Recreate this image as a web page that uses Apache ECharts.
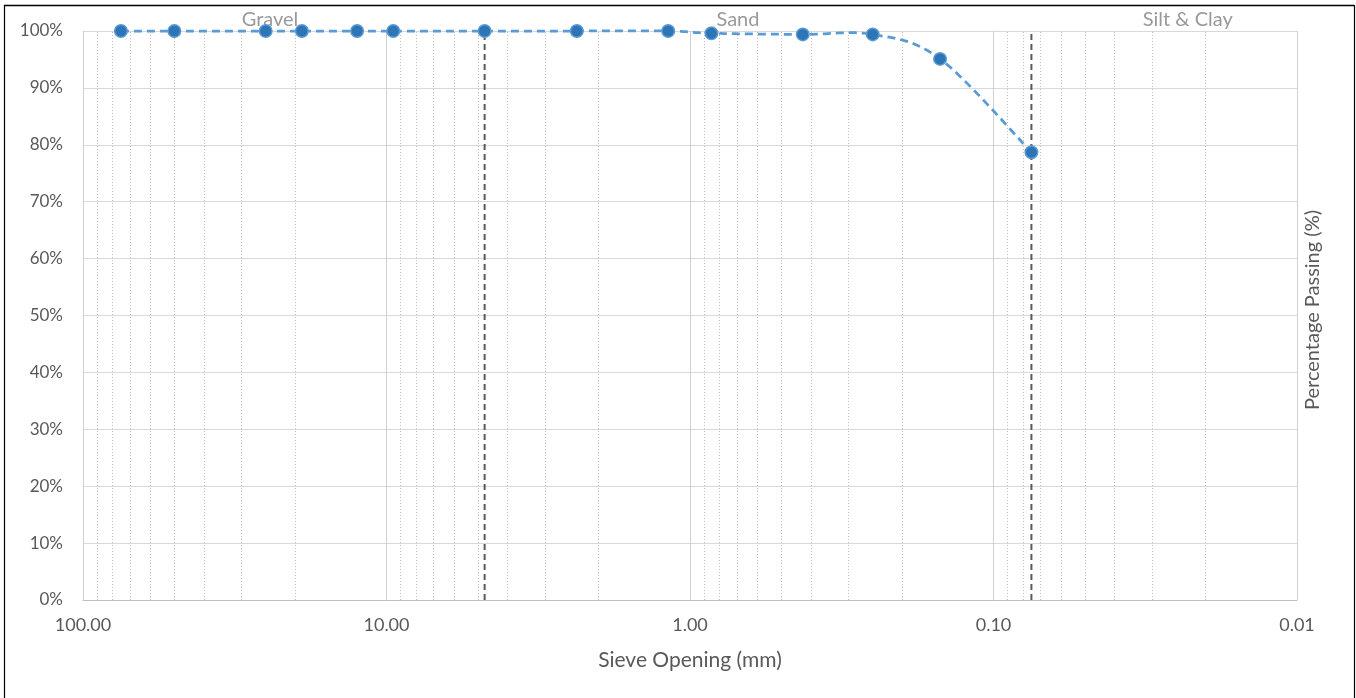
<!DOCTYPE html>
<html>
<head>
<meta charset="utf-8">
<script src="https://cdn.jsdelivr.net/npm/echarts@6/dist/echarts.min.js"></script>
<style>
html,body{margin:0;padding:0;background:#fff;}
#chart{width:1356px;height:698px;}
</style>
</head>
<body>
<div id="chart"></div>
<script>
// Sieve opening sizes (mm) and percentage passing
var sieveSizes = [75, 50, 25, 19, 12.5, 9.5, 4.75, 2.36, 1.18, 0.85, 0.425, 0.25, 0.15, 0.075];
var percentPassing = [100, 100, 100, 100, 100, 100, 100, 100, 100, 99.6, 99.4, 99.4, 95.1, 78.7];
// Soil class boundaries (mm)
var boundaries = [4.75, 0.075];
// Zone labels and their anchor sizes (mm)
var zoneNames = ['Gravel', 'Sand', 'Silt & Clay'];
var zoneAnchors = [24.2, 0.695, 0.0229];
// Log-axis minor gridline multipliers and decades
var minorMultipliers = [2, 3, 4, 5, 6, 7, 8, 9];
var decades = [0.01, 0.1, 1, 10];

var minorLines = [];
decades.forEach(function (d) {
  minorMultipliers.forEach(function (m) {
    minorLines.push({ xAxis: +(d * m).toPrecision(6) });
  });
});

var chart = echarts.init(document.getElementById('chart'));
var font = 'Lato, "Open Sans", sans-serif';

var boundarySeries = boundaries.map(function (b) {
  return {
    name: 'boundary ' + b,
    type: 'line',
    silent: true,
    z: 3,
    symbol: 'none',
    data: [[b, 0], [b, 100]],
    lineStyle: { color: '#595959', type: [6, 4], width: 2 }
  };
});

var seriesData = sieveSizes.map(function (s, i) { return [s, percentPassing[i]]; });

// Smoothed curve (Catmull-Rom style Bezier, like a spreadsheet smoothed line), in pixel space from axis coords
function renderCurve(params, api) {
  if (params.dataIndex !== 0) return null;
  var p = seriesData.map(function (d) { return api.coord(d); });
  var n = p.length, out = [], steps = 24;
  for (var i = 0; i < n - 1; i++) {
    var p0 = p[i - 1] || p[i], p1 = p[i], p2 = p[i + 1], p3 = p[i + 2] || p[i + 1];
    var c1 = [p1[0] + (p2[0] - p0[0]) / 6, p1[1] + (p2[1] - p0[1]) / 6];
    var c2 = [p2[0] - (p3[0] - p1[0]) / 6, p2[1] - (p3[1] - p1[1]) / 6];
    for (var k = (i === 0 ? 0 : 1); k <= steps; k++) {
      var t = k / steps, u = 1 - t;
      out.push([
        u * u * u * p1[0] + 3 * u * u * t * c1[0] + 3 * u * t * t * c2[0] + t * t * t * p2[0],
        u * u * u * p1[1] + 3 * u * u * t * c1[1] + 3 * u * t * t * c2[1] + t * t * t * p2[1]
      ]);
    }
  }
  return {
    type: 'polyline',
    shape: { points: out },
    style: { stroke: '#5b9bd5', lineWidth: 2.75, lineDash: [8, 5], fill: null },
    silent: true
  };
}

chart.setOption({
  animation: false,
  grid: { left: 83, right: 59, top: 31, bottom: 98, containLabel: false },
  xAxis: {
    type: 'log',
    logBase: 10,
    min: 0.01,
    max: 100,
    inverse: true,
    name: 'Sieve Opening (mm)',
    nameLocation: 'middle',
    nameGap: 60,
    nameTextStyle: { color: '#595959', fontSize: 21, fontFamily: font, verticalAlign: 'middle' },
    axisLine: { show: true, lineStyle: { color: '#bfbfbf', width: 1 } },
    axisTick: { show: false },
    axisLabel: {
      color: '#595959', fontSize: 18, fontFamily: font, margin: 16,
      formatter: function (v) { return (+v).toFixed(2); }
    },
    splitLine: { show: true, lineStyle: { color: '#d0d0d0', width: 1 } }
  },
  yAxis: {
    type: 'value',
    min: 0,
    max: 100,
    interval: 10,
    axisLine: { show: false },
    axisTick: { show: false },
    axisLabel: {
      color: '#595959', fontSize: 17, fontFamily: font, margin: 20,
      formatter: function (v) { return v + '%'; }
    },
    splitLine: { show: true, lineStyle: { color: '#d9d9d9', width: 1 } }
  },
  series: [
    {
      name: 'minor',
      type: 'line',
      data: [],
      silent: true,
      markLine: {
        silent: true,
        symbol: ['none', 'none'],
        label: { show: false },
        lineStyle: { color: '#bdbdbd', type: [1, 2], width: 1 },
        data: minorLines
      }
    }
  ].concat(boundarySeries).concat([
    {
      name: 'zones',
      type: 'scatter',
      clip: false,
      symbolSize: 0,
      silent: true,
      data: zoneAnchors.map(function (x, i) { return { value: [x, 102.1], name: zoneNames[i] }; }),
      label: {
        show: true,
        position: 'inside',
        formatter: function (p) { return p.name; },
        color: '#7f7f7f',
        fontSize: 20,
        fontFamily: font
      }
    },
    {
      name: 'curve',
      type: 'custom',
      clip: false,
      z: 4,
      silent: true,
      data: seriesData,
      renderItem: renderCurve
    },
    {
      name: 'Percentage Passing',
      type: 'scatter',
      clip: false,
      z: 5,
      data: seriesData,
      symbol: 'circle',
      symbolSize: 12.5,
      itemStyle: { color: '#2e75b6', borderColor: '#5b9bd5', borderWidth: 1.5, opacity: 1 }
    }
  ]),
  graphic: [
    {
      type: 'text',
      x: 1313, y: 310,
      rotation: Math.PI / 2,
      style: {
        text: 'Percentage Passing (%)',
        fill: '#595959',
        font: '20px ' + font,
        align: 'center',
        verticalAlign: 'middle'
      }
    },
    { type: 'line', shape: { x1: 4, y1: 5.5, x2: 1354, y2: 5.5 }, style: { stroke: '#000', lineWidth: 1.5 } },
    { type: 'line', shape: { x1: 4.5, y1: 5, x2: 4.5, y2: 698 }, style: { stroke: '#000', lineWidth: 1.2 } },
    { type: 'line', shape: { x1: 1354.5, y1: 5, x2: 1354.5, y2: 698 }, style: { stroke: '#000', lineWidth: 1.2 } }
  ]
});
</script>
</body>
</html>
